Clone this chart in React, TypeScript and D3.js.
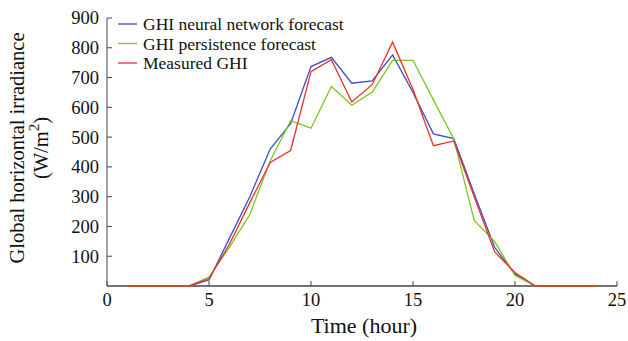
import React from 'react';
import * as d3 from 'd3';

const hours = d3.range(1, 25);
const neuralNetwork = [0, 0, 0, 0, 20, 160, 300, 460, 545, 737, 768, 681, 689, 776, 650, 511, 495, 310, 130, 40, 0, 0, 0, 0];
const persistence = [0, 0, 0, 0, 30, 130, 240, 420, 555, 530, 670, 607, 651, 758, 758, 625, 494, 220, 150, 35, 0, 0, 0, 0];
const measured = [0, 0, 0, 0, 25, 140, 280, 415, 455, 720, 760, 618, 676, 819, 660, 471, 487, 300, 115, 45, 0, 0, 0, 0];
const xTicks = [0, 5, 10, 15, 20, 25];
const yTicks = [100, 200, 300, 400, 500, 600, 700, 800, 900];

const series = [
  { name: 'GHI neural network forecast', values: neuralNetwork, color: '#3a4fc0' },
  { name: 'GHI persistence forecast', values: persistence, color: '#7cc51c' },
  { name: 'Measured GHI', values: measured, color: '#e8302c' },
];

const W = 628;
const H = 341;
const margin = { top: 18, right: 11, bottom: 55, left: 107 };

export default function App() {
  const x = d3.scaleLinear().domain([0, 25]).range([margin.left, W - margin.right]);
  const y = d3.scaleLinear().domain([0, 900]).range([H - margin.bottom, margin.top]);
  const line = d3.line<number>().x((_, i) => x(hours[i])).y(d => y(d));
  const font = 'Liberation Serif, Times New Roman, serif';
  const axisColor = '#444';

  return (
    <svg width={W} height={H} style={{ position: 'absolute', left: 0, top: 0, background: '#fff' }} fontFamily={font}>
      {/* axes */}
      <line x1={x(0)} x2={x(0)} y1={y(900)} y2={y(0)} stroke={axisColor} strokeWidth={1} />
      <line x1={x(0)} x2={x(25)} y1={y(0)} y2={y(0)} stroke={axisColor} strokeWidth={1.5} />
      {yTicks.map(t => (
        <g key={t}>
          <line x1={x(0)} x2={x(0) + 5} y1={y(t)} y2={y(t)} stroke={axisColor} />
          <text x={x(0) - 8} y={y(t)} dy="0.35em" textAnchor="end" fontSize={18.5} fill="#111">{t}</text>
        </g>
      ))}
      {xTicks.map(t => (
        <g key={t}>
          <line x1={x(t)} x2={x(t)} y1={y(0)} y2={y(0) - 5} stroke={axisColor} />
          <text x={x(t)} y={y(0) + 20} textAnchor="middle" fontSize={18.5} fill="#111">{t}</text>
        </g>
      ))}

      {/* series */}
      {series.map(s => (
        <path key={s.name} d={line(s.values) || ''} fill="none" stroke={s.color} strokeWidth={1.3} />
      ))}

      {/* legend */}
      {series.map((s, i) => (
        <g key={s.name} transform={`translate(118, ${24 + i * 19.5})`}>
          <line x1={0} x2={19} y1={0} y2={0} stroke={s.color} strokeWidth={1.3} />
          <text x={25} y={0} dy="0.35em" fontSize={17.5} fill="#111">{s.name}</text>
        </g>
      ))}

      {/* axis titles */}
      <text x={364} y={333} textAnchor="middle" fontSize={22} fill="#111">Time (hour)</text>
      <g transform="translate(24, 148) rotate(-90)">
        <text x={0} y={0} textAnchor="middle" fontSize={20.5} fill="#111">Global horizontal irradiance</text>
        <text x={0} y={24} textAnchor="middle" fontSize={20.5} fill="#111">
          (W/m<tspan dy={-9} fontSize={15}>2</tspan><tspan dy={9}>)</tspan>
        </text>
      </g>
    </svg>
  );
}
